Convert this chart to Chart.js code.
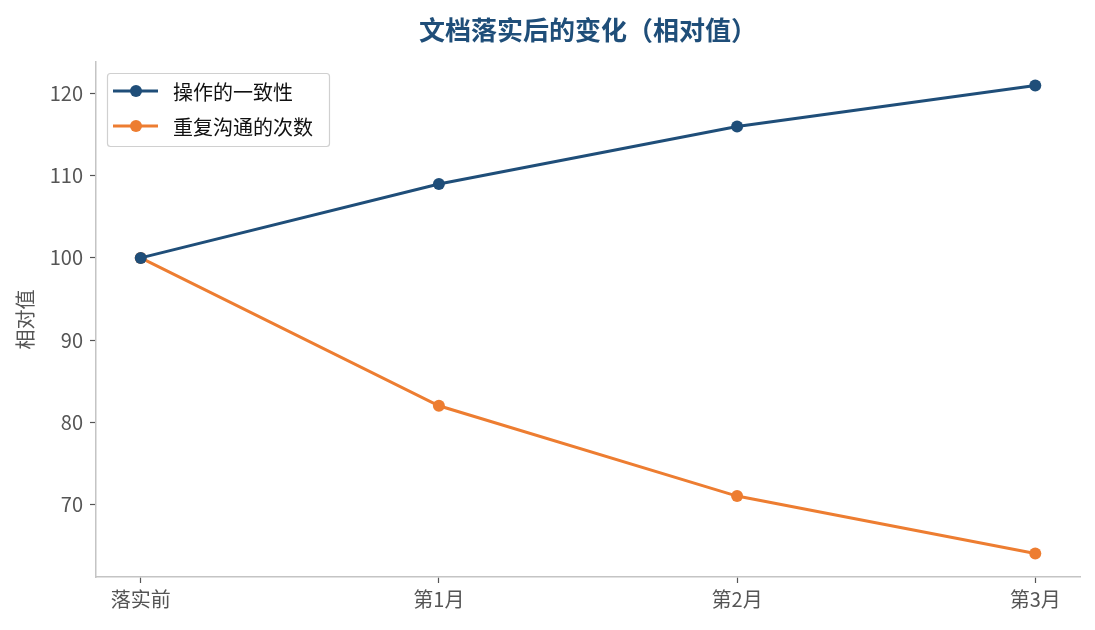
<!DOCTYPE html>
<html>
<head>
<meta charset="utf-8">
<script src="https://cdn.jsdelivr.net/npm/chart.js@4"></script>
<style>
  html, body { margin: 0; padding: 0; background: #fff; }
  #wrap { width: 1095px; height: 630px; }
</style>
</head>
<body>
<div id="wrap"><canvas id="chart" width="1095" height="630"></canvas></div>
<script>
"use strict";

// Данные графика
const categories = ["落实前", "第1月", "第2月", "第3月"];
const consistency = [100, 109, 116, 121];
const repeats = [100, 82, 71, 64];
const yTicks = [70, 80, 90, 100, 110, 120];
const seriesNames = ["操作的一致性", "重复沟通的次数"];

const BLUE = "#1f4e79";
const ORANGE = "#ed7d31";
const FONT = "'Noto Sans CJK SC', 'Noto Sans', sans-serif";

const toPoints = (arr) => arr.map((v, i) => ({ x: i, y: v }));

// Легенда в рамке в левом верхнем углу области графика
const boxLegend = {
  id: "boxLegend",
  afterDraw(chart) {
    const ctx = chart.ctx;
    const a = chart.chartArea;
    const x0 = a.left + 11, y0 = a.top + 11, w = 222, h = 73;
    ctx.save();
    ctx.fillStyle = "rgba(255,255,255,0.8)";
    ctx.strokeStyle = "#d0d0d0";
    ctx.lineWidth = 1.2;
    ctx.beginPath();
    ctx.roundRect(x0 + 0.5, y0 + 0.5, w, h, 3);
    ctx.fill();
    ctx.stroke();
    chart.data.datasets.forEach((ds, i) => {
      const cy = y0 + 18 + i * 35;
      ctx.strokeStyle = ds.borderColor;
      ctx.lineWidth = 3;
      ctx.beginPath();
      ctx.moveTo(x0 + 6, cy);
      ctx.lineTo(x0 + 51, cy);
      ctx.stroke();
      ctx.fillStyle = ds.borderColor;
      ctx.beginPath();
      ctx.arc(x0 + 29, cy, 6, 0, Math.PI * 2);
      ctx.fill();
      ctx.fillStyle = "#111";
      ctx.font = "20px " + FONT;
      ctx.textBaseline = "middle";
      ctx.fillText(ds.label, x0 + 66, cy + 1);
    });
    ctx.restore();
  },
};

const lineDs = (label, data, color) => ({
  label,
  data: toPoints(data),
  borderColor: color,
  backgroundColor: color,
  borderWidth: 3,
  pointRadius: 6,
  pointBorderWidth: 0,
  pointHoverRadius: 6,
  tension: 0,
});

new Chart(document.getElementById("chart"), {
  type: "line",
  data: {
    datasets: [
      lineDs(seriesNames[0], consistency, BLUE),
      lineDs(seriesNames[1], repeats, ORANGE),
    ],
  },
  options: {
    responsive: false,
    animation: false,
    devicePixelRatio: 1,
    layout: { padding: { top: 62, right: 15, left: 0, bottom: 0 } },
    plugins: {
      legend: { display: false },
      tooltip: { enabled: false },
      title: { display: false },
    },
    scales: {
      x: {
        type: "linear",
        min: -0.15,
        max: 3.15,
        afterBuildTicks: (s) => { s.ticks = categories.map((_, i) => ({ value: i })); },
        afterFit: (s) => { s.height = 53; },
        ticks: {
          callback: (v) => categories[v],
          color: "#555",
          font: { family: FONT, size: 20 },
          padding: 4,
          maxRotation: 0,
        },
        grid: { drawOnChartArea: false, tickLength: 6, tickColor: "#555", tickWidth: 1.2 },
        border: { color: "#c4c4c4", width: 1.5 },
      },
      y: {
        min: 61.15,
        max: 123.85,
        afterBuildTicks: (s) => { s.ticks = yTicks.map((v) => ({ value: v })); },
        afterFit: (s) => { s.width = 96; },
        ticks: {
          color: "#555",
          font: { family: FONT, size: 20 },
          padding: 7,
        },
        title: {
          display: true,
          text: "相对值",
          color: "#555",
          font: { family: FONT, size: 20 },
          padding: { top: 13, bottom: 0 },
        },
        grid: { drawOnChartArea: false, tickLength: 6, tickColor: "#555", tickWidth: 1.2 },
        border: { color: "#c4c4c4", width: 1.5 },
      },
    },
  },
  plugins: [boxLegend, {
    id: "topTitle",
    afterDraw(chart) {
      const ctx = chart.ctx;
      const a = chart.chartArea;
      ctx.save();
      ctx.fillStyle = BLUE;
      ctx.font = "bold 26px " + FONT;
      ctx.textAlign = "center";
      ctx.textBaseline = "middle";
      ctx.fillText("文档落实后的变化（相对值）", (a.left + a.right) / 2, 30);
      ctx.restore();
    },
  }],
});
</script>
</body>
</html>
